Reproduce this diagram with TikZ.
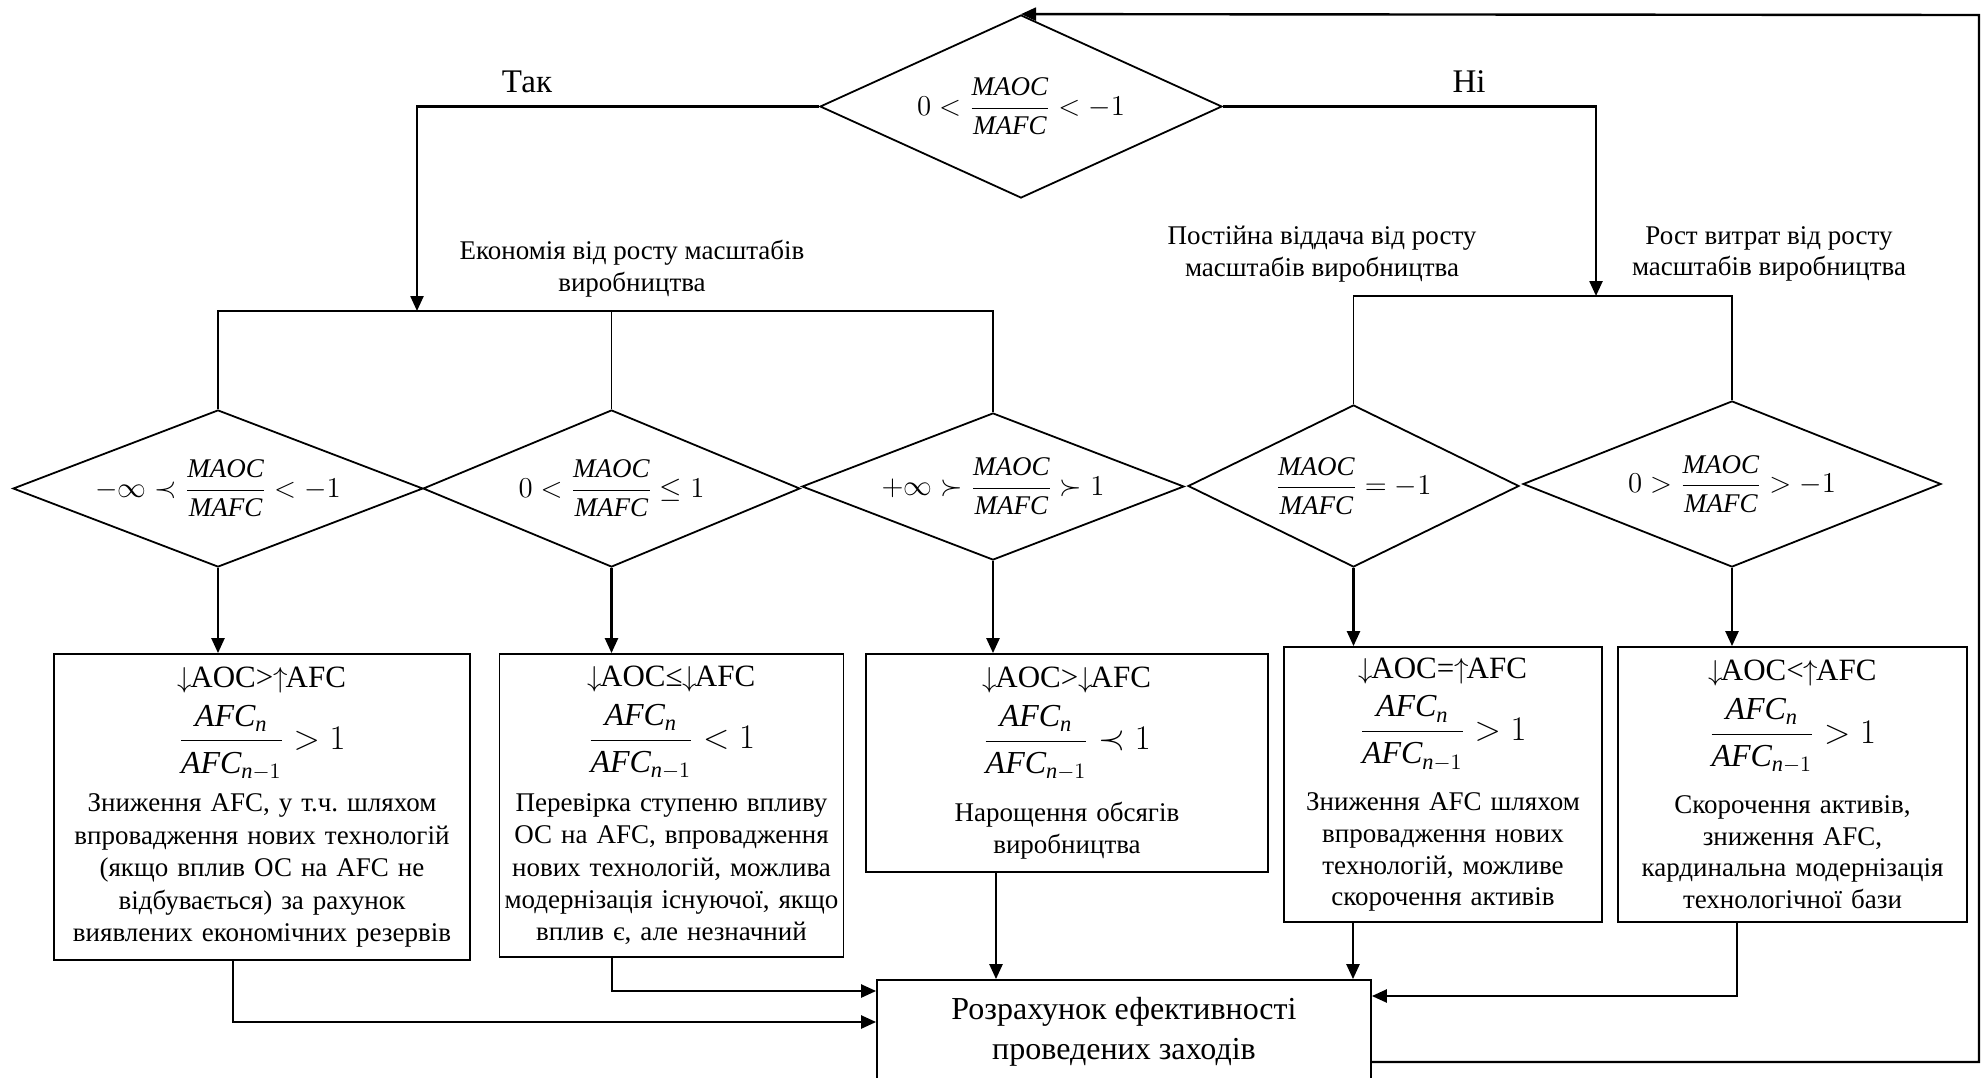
\documentclass[tikz,border=0pt]{standalone}
\usepackage{fontspec}
\setmainfont{Liberation Serif}
\usetikzlibrary{shapes.geometric,arrows.meta}

\newcommand{\mratio}{\displaystyle\frac{\mathit{MAOC}}{\mathit{MAFC}}}
\newcommand{\afcratio}[1]{{\fontsize{16}{18}\selectfont\mbox{$\displaystyle\frac{\mathit{AFC}_{\mathit{n}}}{\mathit{AFC}_{\mathit{n}-1}}#1 1$}}}
\newcommand{\boxhead}[1]{{\fontsize{15.5}{17}\selectfont\mbox{#1}}}
\newcommand{\dn}{$\downarrow$\kern-1pt}
\newcommand{\up}{$\uparrow$\kern-1pt}

\begin{document}
\begin{tikzpicture}[x=0.5pt,y=-0.5pt,
    font=\fontsize{13.5}{15.8}\selectfont\frenchspacing,
    dia/.style={diamond,draw,line width=0.9pt,inner sep=0pt},
    box/.style={rectangle,draw,line width=0.9pt,align=center,inner sep=2pt},
    lbl/.style={align=center},
    arr/.style={line width=1.2pt,-{Triangle[length=7.5pt,width=6.5pt]}},
    bus/.style={line width=0.7pt}]
  \useasboundingbox (0,0) rectangle (1981,1077);
  % decision nodes
  \node[dia,minimum width=201pt,minimum height=91.5pt,shape aspect=2.2] (dtop) at (1021,106.5) {$0<\mratio<-1$};
  \node[dia,minimum width=205pt,minimum height=78.5pt,shape aspect=2.6] (d1) at (218,488.5) {$-\infty\prec\mratio<-1$};
  \node[dia,minimum width=188.5pt,minimum height=78.5pt,shape aspect=2.4] (d2) at (611.5,488.5) {$0<\mratio\le 1$};
  \node[dia,minimum width=191pt,minimum height=73.5pt,shape aspect=2.6] (d3) at (993,486.5) {$+\infty\succ\mratio\succ 1$};
  \node[dia,minimum width=165.5pt,minimum height=81pt,shape aspect=2.04] (d4) at (1353.5,486) {$\mratio=-1$};
  \node[dia,minimum width=209pt,minimum height=83pt,shape aspect=2.5] (d5) at (1732,484) {$0>\mratio>-1$};
  % labels
  \node[font=\fontsize{16.5}{18}\selectfont] (yes) at (527,82) {Так};
  \node[font=\fontsize{16.5}{18}\selectfont] (no) at (1469,82) {Ні};
  \node[lbl] (econ) at (632,269) {Економія від росту масштабів\\виробництва};
  \node[lbl] (const) at (1322,254) {Постійна віддача від росту\\масштабів виробництва};
  \node[lbl] (costs) at (1769,254) {Рост витрат від росту\\масштабів виробництва};
  % action boxes
  \node[box,minimum width=208pt,minimum height=153pt,text width=204pt,font=\fontsize{13.5}{16.2}\selectfont\frenchspacing] (b1) at (262,807)
    {\boxhead{\dn AOC>\up AFC}\\[5pt] \afcratio{>}\\[6pt] Зниження AFC, у т.ч. шляхом\\ впровадження нових технологій\\ (якщо вплив ОС на AFC не\\ відбувається) за рахунок\\ виявлених економічних резервів};
  \node[box,minimum width=171.5pt,minimum height=151.5pt,text width=168pt,font=\fontsize{13.5}{16.2}\selectfont\frenchspacing] (b2) at (671.5,805.5)
    {\boxhead{\dn AOC≤\dn AFC}\\[5pt] \afcratio{<}\\[6pt] Перевірка ступеню впливу\\ ОС на AFC, впровадження\\ нових технологій, можлива\\ модернізація існуючої, якщо\\ вплив є, але незначний};
  \node[box,minimum width=201pt,minimum height=109pt,text width=196pt] (b3) at (1067,763)
    {\boxhead{\dn AOC>\dn AFC}\\[5pt] \afcratio{\prec}\\[10pt] Нарощення обсягів\\ виробництва};
  \node[box,minimum width=159pt,minimum height=137.5pt,text width=155pt] (b4) at (1443,784.5)
    {\boxhead{\dn AOC=\up AFC}\\[5pt] \afcratio{>}\\[10pt] Зниження AFC шляхом\\ впровадження нових\\ технологій, можливе\\ скорочення активів};
  \node[box,minimum width=174.5pt,minimum height=137.5pt,text width=170pt] (b5) at (1792.5,784.5)
    {\boxhead{\dn AOC<\up AFC}\\[5pt] \afcratio{>}\\[10pt] Скорочення активів,\\ зниження AFC,\\ кардинальна модернізація\\ технологічної бази};
  \node[box,minimum width=247pt,minimum height=52pt,font=\fontsize{16}{20}\selectfont] (res) at (1124,1032)
    {Розрахунок ефективності\\ проведених заходів};
  % branches
  \coordinate (yesdrop) at (417,311);
  \coordinate (nodrop) at (1596,296);
  \coordinate (back) at (1979,15);
  \draw[arr] (dtop.west) -| (yesdrop);
  \draw[arr] (dtop.east) -| (nodrop);
  \draw[bus] (d1.north) |- (yesdrop) -| (d3.north);
  \draw[bus] (d2.north) -- (d2.north |- yesdrop);
  \draw[bus] (d4.north) |- (nodrop) -| (d5.north);
  \foreach \i in {1,...,5}
    \draw[arr] (d\i.south) -- (d\i.south |- b\i.north);
  % to the result box
  \draw[arr] ([xshift=-14.5pt]b1.south) |- ([yshift=5pt]res.west);
  \draw[arr] ([xshift=-29.75pt]b2.south) |- ([yshift=20.5pt]res.west);
  \draw[arr] ([xshift=-35.5pt]b3.south) -- ([xshift=-35.5pt]b3.south |- res.north);
  \draw[arr] ([xshift=-45pt]b4.south) -- ([xshift=-45pt]b4.south |- res.north);
  \draw[arr] ([xshift=-27.75pt]b5.south) |- ([yshift=18pt]res.east);
  \draw[arr] ([yshift=-15pt]res.east) -| (back) -- (dtop.north);
\end{tikzpicture}
\end{document}
